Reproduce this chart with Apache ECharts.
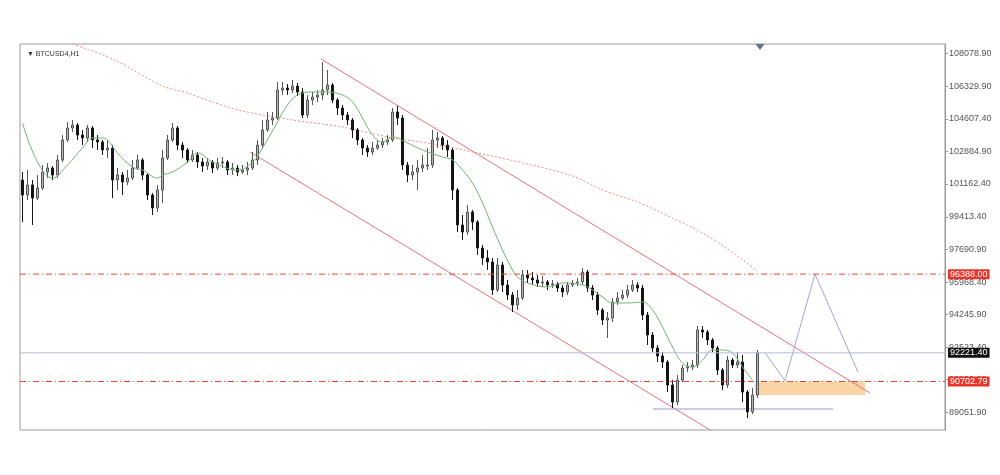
<!DOCTYPE html>
<html>
<head>
<meta charset="utf-8">
<script src="https://cdn.jsdelivr.net/npm/echarts@6/dist/echarts.min.js"></script>
<style>html,body{margin:0;padding:0;background:#fff}#c{width:1000px;height:475px}</style>
</head>
<body>
<div id="c"></div>
<script>
// ---- data ----
const symbolTitle = '▼ BTCUSD4,H1';
const slotCount = 185; // candle slots across the chart (data + empty future space)
// [open, close, low, high]
const candles = [
[101371,100577,99148,101795],[100577,101107,100312,101901],[101107,100418,98989,101371],[100418,100948,100312,101636],
[100948,101795,100842,102166],[101795,102007,101477,102271],[102007,101636,101371,102113],[101636,102430,101477,102695],
[102430,103489,102324,103754],[103489,104124,103383,104442],[104124,104283,103912,104548],[104283,103754,103489,104389],
[103754,103595,103224,104018],[103595,104124,103383,104283],[104124,103489,103065,104230],[103489,103383,102960,103754],
[103383,102960,102695,103489],[102960,103065,102536,103489],[103065,101371,100418,103224],[101371,101636,100842,102007],
[101636,101265,100577,101795],[101265,101477,101107,101901],[101477,102007,101371,102430],[102007,102430,101901,102695],
[102430,101636,101371,102536],[101636,100577,100312,101742],[100577,99889,99518,100683],[99889,100842,99677,101107],
[100842,102536,100148,102960],[102536,103489,102430,103754],[103489,104124,103383,104389],[104124,103224,102960,104230],
[103224,102960,102536,103383],[102960,102430,102271,103065],[102430,102695,102324,102960],[102695,102324,102007,102854],
[102324,102113,101795,102536],[102113,102324,101901,102536],[102324,102007,101742,102430],[102007,102271,101901,102536],
[102271,102324,102007,102589],[102324,101901,101636,102430],[101901,102007,101636,102271],[102007,101795,101583,102166],
[101795,101901,101689,102166],[101901,102007,101636,102324],[102007,102430,101901,102854],[102430,103224,102166,103489],
[103224,104018,103065,104548],[104018,104548,103912,104971],[104548,104654,104283,104971],[104654,106136,104548,106560],
[106136,106242,105871,106560],[106242,106136,105871,106454],[106136,106348,105977,106665],[106348,106030,105818,106507],
[106030,104812,104654,106242],[104812,105607,104654,105871],[105607,105765,105342,106030],[105765,105871,105501,106136],
[105871,106136,105607,107618],[106136,106401,105871,107195],[106401,105607,105448,106507],[105607,105183,104812,105712],
[105183,104812,104548,105342],[104812,104548,104283,104971],[104548,104018,103595,104654],[104018,103489,103224,104124],
[103489,103065,102695,103595],[103065,102854,102589,103224],[102854,103065,102695,103383],[103065,103224,102960,103489],
[103224,103383,103065,103595],[103383,103489,103224,103754],[103489,104971,103383,105183],[104971,104654,104283,105289],
[104654,102166,101901,104812],[102166,101636,101265,102324],[101636,101795,101371,102166],[101795,102007,100842,102430],
[102007,102166,101795,102695],[102113,102166,101901,103065],[102166,103489,102007,104018],[103489,103595,103065,103912],
[103595,103224,102960,103701],[103224,102960,102589,103489],[102960,100842,100312,103065],[100842,98989,98618,100948],
[98989,98618,98195,99518],[98618,99677,98460,100048],[99677,99148,98724,99783],[99148,97771,97401,99254],
[97771,97242,96872,97930],[97242,97030,96607,97665],[97030,95548,95283,97242],[95548,96872,95442,97242],
[96872,95812,95442,97030],[95812,95283,95018,96077],[95283,94753,94383,95442],[94753,95124,94489,95548],
[95124,96342,95018,96607],[96342,96183,95918,96607],[96183,96077,95812,96501],[96077,95918,95706,96342],
[95918,95971,95706,96289],[95971,95812,95548,96077],[95812,95865,95653,96077],[95865,95653,95442,95971],
[95653,95442,95177,95812],[95442,95812,95283,95971],[95812,95918,95706,96077],[95918,95971,95759,96183],
[95971,96501,95812,96713],[96501,95653,95442,96607],[95653,95283,95018,95812],[95283,94489,94224,95442],
[94489,93959,93695,94595],[93959,94065,93007,94383],[94065,94912,93853,95124],[94912,95124,94753,95442],
[95124,95283,95018,95548],[95283,95548,95124,95812],[95548,95812,95442,96077],[95812,95653,95442,95971],
[95653,94224,93959,95812],[94224,93166,92636,94383],[93166,92477,92266,93324],[92477,92054,91736,92636],
[92054,91736,91418,92266],[91736,90518,90147,91842],[90518,89618,89301,90783],[89618,90783,89460,91048],
[90783,91418,90677,91577],[91418,91471,91207,91736],[91471,91577,91312,91842],[91577,93430,91418,93642],
[93430,93324,93007,93642],[93324,92901,92636,93430],[92901,92477,92266,93007],[92477,91312,91048,92583],
[91312,90518,90253,91418],[90518,91842,90359,92054],[91842,91577,91418,91948],[91577,91736,91418,92266],
[91736,90147,89618,92107],[90147,89089,88772,90253],[89089,89989,88983,90359],[89989,92221.4,89830,92371]
];
// green moving average [slot, price]
const maFast = [
[0,104389],[3,102324],[6,101477],[9,102166],[12,103065],[14,103595],[16,103595],[17,103489],[19,102801],
[22,102060],[24,101901],[27,101477],[28,101636],[30,101795],[33,102324],[35,102801],[38,102324],[43,101901],
[46,102324],[48,103065],[51,104442],[53,105342],[55,105871],[58,106030],[61,106030],[64,105871],[66,105501],
[68,104654],[70,103754],[72,103383],[74,103648],[77,103330],[80,102960],[84,102589],[86,102430],[88,101901],
[90,101213],[92,100154],[94,98883],[96,97665],[98,96607],[99,96236],[101,95918],[105,95706],[108,95918],
[112,95812],[114,95548],[116,95177],[118,94860],[121,94860],[124,94912],[126,94489],[128,93590],[130,92530],
[132,91683],[134,91471],[136,91842],[138,92371],[140,92371],[142,92213],[144,91471],[146,90783]
];
// red dotted slow moving average [slot, price]
const maSlow = [
[10,108571],[18,107777],[28,106348],[33,105977],[38,105501],[44,105024],[54,104548],[64,104177],[74,103595],
[81,103330],[91,102801],[101,102218],[110,101583],[116,100842],[123,100207],[130,99360],[136,98566],[141,97718],[147,96554]
];
// price-axis tick labels
const yTicks = [108078.90,106329.90,104607.40,102884.90,101162.40,99413.40,97690.90,95968.40,94245.90,92523.40,90800.90,89051.90];
const yMin = 88136, yMax = 108571;
// levels
const resistanceLevel = 96388.00;
const supportLevel = 90702.79;
const currentPrice = 92221.40;
// drawn objects [slot, price]
const channelUpper = [[59.7,107777],[169.5,90095]];
const channelLower = [[45.5,102854],[139.5,87819]];
const lowLine = [[126.1,89248],[162.1,89248]];
const projection = [[148.5,92221.4],[152.5,90750],[158.5,96388],[167.1,91207]];
const zone = [[146.5,90702.79],[168.5,89990]];
const shiftMarker = [147.5, yMax];

const categories = [];
for (let i = 0; i < slotCount; i++) categories.push(String(i));

const chart = echarts.init(document.getElementById('c'));
const fontFam = '"Liberation Sans", Arial, sans-serif';
function levelSeries(val, color, type, bg) {
  return {
    type: 'line', xAxisIndex: 1, showSymbol: false, z: 6, silent: true,
    data: [[-0.5, val], [slotCount - 0.5, val]],
    itemStyle: {color: color},
    lineStyle: {color: color, type: type, width: 1},
    endLabel: {show: true, formatter: val.toFixed(2), color: '#fff', backgroundColor: bg,
               fontSize: 9, fontFamily: fontFam, padding: [1, 2, 0, 2], distance: 3}
  };
}
chart.setOption({
  animation: false,
  backgroundColor: '#fff',
  title: {text: symbolTitle, left: 22, top: 46, textStyle: {fontSize: 7, fontWeight: 'normal', color: '#333', fontFamily: fontFam}},
  grid: {left: 20, right: 55, top: 44, bottom: 45, show: true, borderColor: '#9a9a9a', borderWidth: 1},
  xAxis: [
    {type: 'category', data: categories, boundaryGap: true, axisLabel: {show: false}, axisTick: {show: false},
     axisLine: {show: false, onZero: false}, splitLine: {show: false}},
    {type: 'value', min: -0.5, max: slotCount - 0.5, show: false, axisLine: {show: false, onZero: false}, splitLine: {show: false}}
  ],
  yAxis: {
    type: 'value', position: 'right', min: yMin, max: yMax, scale: true,
    axisLine: {show: true, onZero: false, lineStyle: {color: '#9a9a9a'}},
    axisTick: {show: true, length: 3, lineStyle: {color: '#9a9a9a'}, customValues: yTicks},
    axisLabel: {customValues: yTicks, formatter: v => v.toFixed(2), fontSize: 9, color: '#555', fontFamily: fontFam, margin: 4},
    splitLine: {show: false}
  },
  series: [
    {
      type: 'candlestick', data: candles, barWidth: 3, z: 3,
      itemStyle: {color: '#b4b4b4', color0: '#151515', borderColor: '#555555', borderColor0: '#151515', borderWidth: 1}
    },
    {type: 'line', xAxisIndex: 1, data: maFast, smooth: 0.4, showSymbol: false, z: 4,
     lineStyle: {color: '#6fb46f', width: 1}},
    {type: 'line', xAxisIndex: 1, data: maSlow, smooth: 0.3, showSymbol: false, z: 2,
     lineStyle: {color: '#ef8a8a', width: 1, type: [2, 2]}},
    {type: 'line', xAxisIndex: 1, data: channelUpper, showSymbol: false, z: 2,
     lineStyle: {color: '#e8707e', width: 1}},
    {type: 'line', xAxisIndex: 1, data: channelLower, showSymbol: false, z: 2,
     lineStyle: {color: '#e8707e', width: 1}},
    {type: 'line', xAxisIndex: 1, data: lowLine, showSymbol: false, z: 2,
     lineStyle: {color: '#9b9bd0', width: 1}},
    levelSeries(resistanceLevel, '#e8463c', [6, 3, 1, 3], '#e8352b'),
    levelSeries(supportLevel, '#e8463c', [6, 3, 1, 3], '#e8352b'),
    levelSeries(currentPrice, '#b8bcd6', 'solid', '#111'),
    {type: 'line', xAxisIndex: 1, data: projection, showSymbol: false, z: 2,
     lineStyle: {color: '#a3a3d6', width: 1},
     markArea: {silent: true, itemStyle: {color: '#fbcf9c', opacity: 0.9},
                data: [[{coord: zone[0]}, {coord: zone[1]}]]},
     markPoint: {silent: true, symbol: 'triangle', symbolRotate: 180, symbolSize: [9, 6], symbolOffset: [0, 3],
                 itemStyle: {color: '#6a7090'}, label: {show: false}, data: [{coord: shiftMarker}]}}
  ]
});
</script>
</body>
</html>
